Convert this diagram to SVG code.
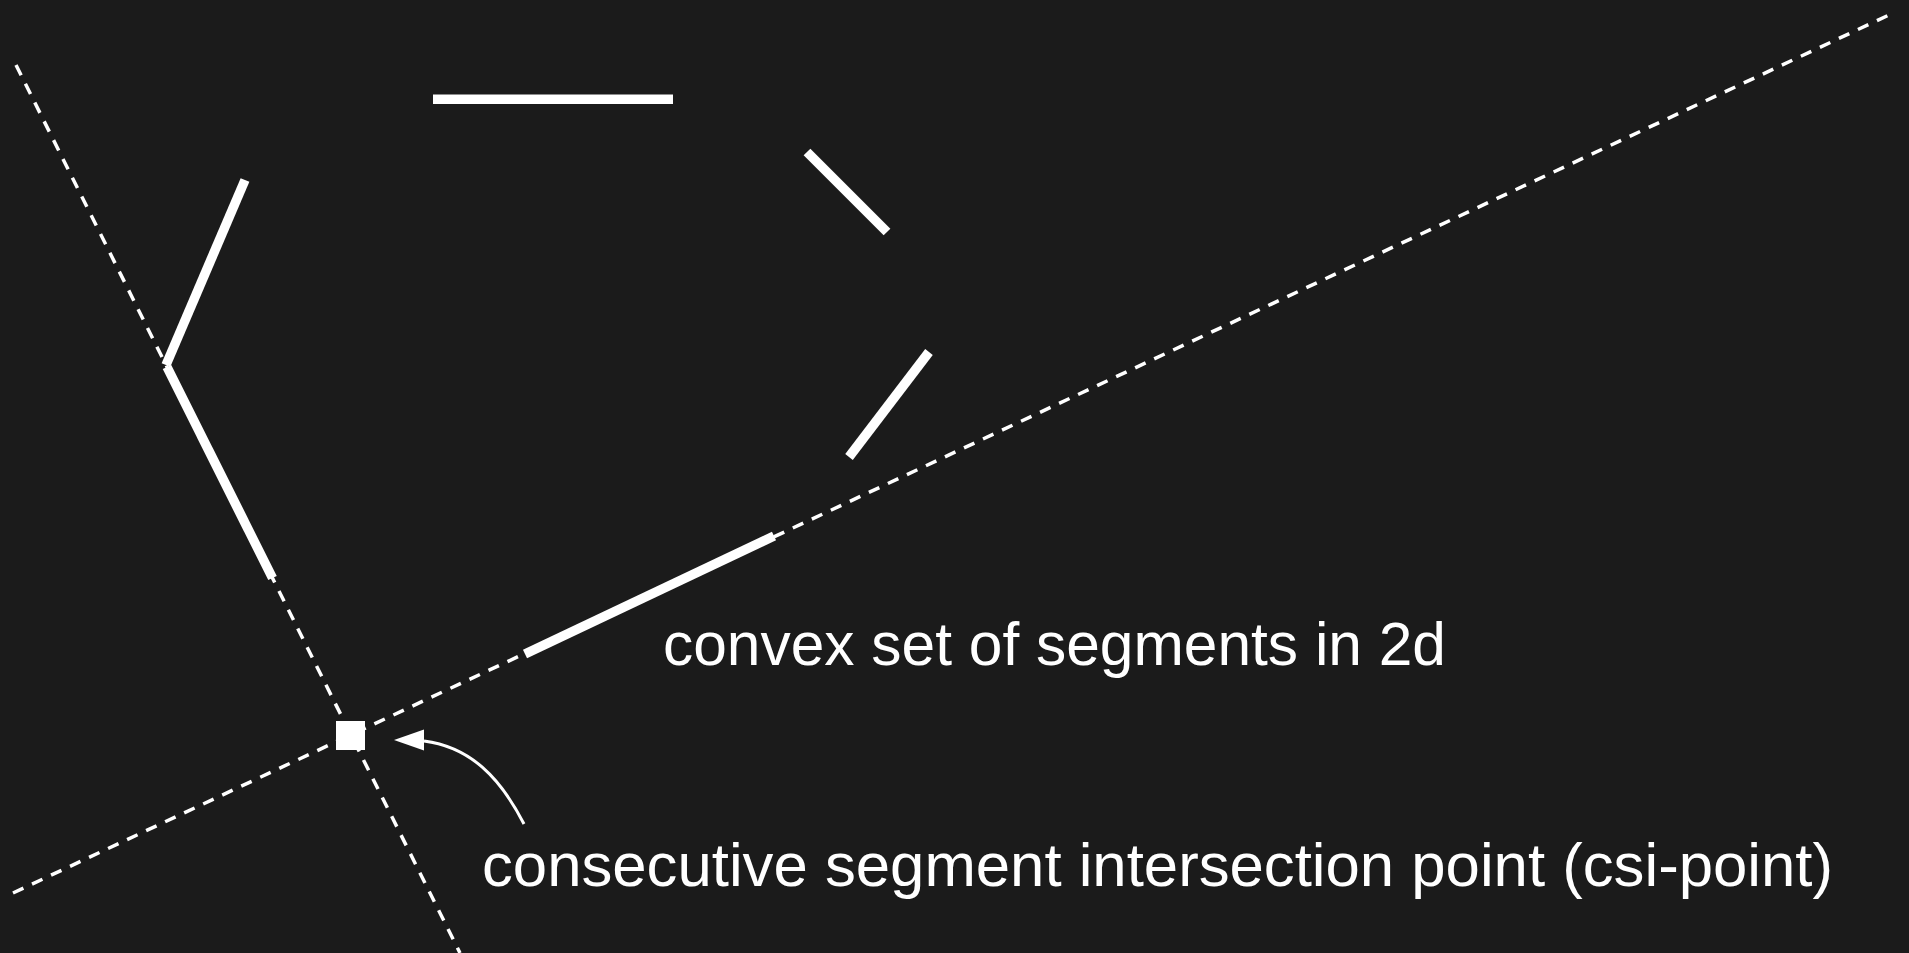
<svg xmlns="http://www.w3.org/2000/svg" width="1909" height="953" viewBox="0 0 1909 953">
<style>
.seg{stroke:#fff;stroke-width:9.5;stroke-linecap:butt;fill:none}
.ext{stroke:#fff;stroke-width:3.5;stroke-dasharray:11.5 9.5;fill:none}
.lbl{fill:#fff;font-family:"Liberation Sans","DejaVu Sans",sans-serif;font-size:61px}
</style>
<rect width="1909" height="953" fill="#1b1b1b"/>
<g id="connectors">
<line class="ext" x1="16" y1="65" x2="460" y2="953"/>
<line class="ext" x1="13" y1="893" x2="1889" y2="15"/>
</g>
<g id="segments">
<g id="seg-top"><line class="seg" x1="433" y1="99.3" x2="673" y2="99.3"/></g>
<g id="seg-a"><line class="seg" x1="245" y1="180" x2="166" y2="365"/></g>
<g id="seg-b"><line class="seg" x1="167" y1="367" x2="272.5" y2="578"/></g>
<g id="seg-d"><line class="seg" x1="807" y1="152" x2="887" y2="232"/></g>
<g id="seg-e"><line class="seg" x1="849" y1="457" x2="929" y2="352"/></g>
<g id="seg-c"><line class="seg" x1="525" y1="654" x2="774" y2="536"/></g>
</g>
<g id="csi-point"><rect x="336" y="721" width="29" height="29" fill="#fff"/></g>
<g id="arrow">
<path d="M524,824 C500,777 470,747 424,741" stroke="#fff" stroke-width="3" fill="none"/>
<path d="M394,740 L424,729.5 L424,750.5 Z" fill="#fff"/>
</g>
<g id="label-convex"><text class="lbl" x="663" y="665" textLength="783" lengthAdjust="spacingAndGlyphs">convex set of segments in 2d</text></g>
<g id="label-csi"><text class="lbl" x="482" y="886" textLength="1351" lengthAdjust="spacingAndGlyphs">consecutive segment intersection point (csi-point)</text></g>
</svg>
